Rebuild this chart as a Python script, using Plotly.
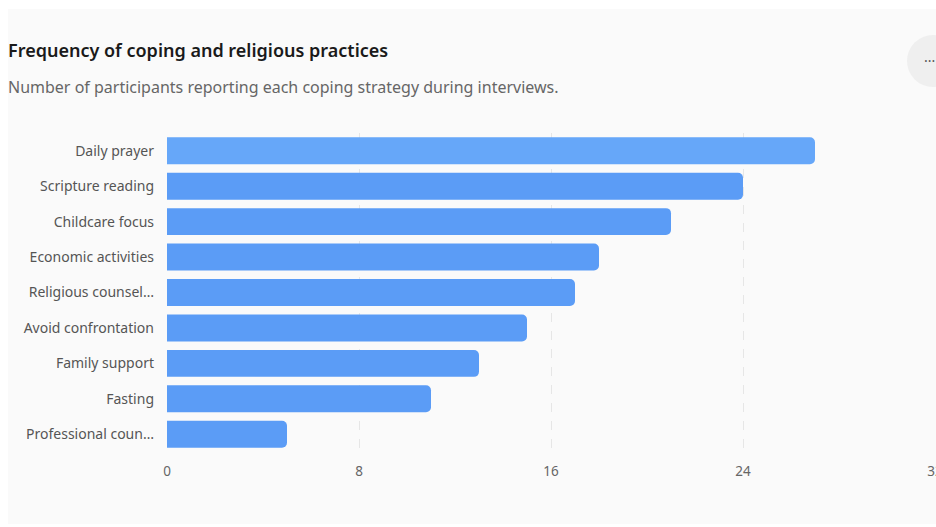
import plotly.graph_objects as go

categories = ["Daily prayer", "Scripture reading", "Childcare focus", "Economic activities",
              "Religious counsel…", "Avoid confrontation", "Family support", "Fasting",
              "Professional coun…"]
values = [27, 24, 21, 18, 17, 15, 13, 11, 5]
x_ticks = [0, 8, 16, 24, 32]
title_text = "Frequency of coping and religious practices"
subtitle_text = "Number of participants reporting each coping strategy during interviews."

W, H = 936, 527
L, R, T, B = 167, 1, 133, 75
PW, PH = W - L - R, H - T - B

def px(x):
    return (x - L) / PW

def py(y):
    return 1 - (y - T) / PH

bar_colors = ["#66a7f9"] + ["#5b9cf6"] * (len(values) - 1)

fig = go.Figure(go.Bar(
    x=values, y=categories, orientation="h",
    marker=dict(color=bar_colors, cornerradius=5, line=dict(width=0)),
    width=0.76, hoverinfo="x+y",
))

FONT = "Noto Sans, Open Sans, sans-serif"

fig.update_layout(
    width=W, height=H,
    margin=dict(l=L, r=R, t=T, b=B, autoexpand=False),
    paper_bgcolor="#ffffff",
    plot_bgcolor="rgba(0,0,0,0)",
    font=dict(family=FONT, color="#555555", size=14),
    showlegend=False,
    bargap=0.24,
    xaxis=dict(range=[0, 32], tickvals=x_ticks, showgrid=True, gridcolor="#e6e6e6",
               griddash="dash", gridwidth=1, zeroline=False, showline=False,
               ticks="", tickfont=dict(size=13.5, color="#666666"), ticklabelstandoff=9,
               ticklabeloverflow="allow", automargin=False, fixedrange=True),
    yaxis=dict(autorange="reversed", showgrid=False, zeroline=False, showline=False,
               ticks="", tickfont=dict(size=14, color="#555555"), ticklabelstandoff=12,
               automargin=False, fixedrange=True),
    shapes=[
        dict(type="rect", xref="paper", yref="paper", x0=px(8), x1=px(940), y0=py(524), y1=py(9),
             fillcolor="#fafafa", line=dict(width=0), layer="below"),
        dict(type="circle", xref="paper", yref="paper", x0=px(907), x1=px(959), y0=py(87), y1=py(35),
             fillcolor="#efefef", line=dict(width=0), layer="below"),
    ],
    annotations=[
        dict(text=title_text, xref="paper", yref="paper", x=px(6), y=py(50), xanchor="left",
             yanchor="middle", showarrow=False,
             font=dict(size=18, color="#1a1a1a", family=FONT, weight=600)),
        dict(text=subtitle_text, xref="paper", yref="paper", x=px(6), y=py(87), xanchor="left",
             yanchor="middle", showarrow=False,
             font=dict(size=16, color="#666666", family=FONT)),
        dict(text="···", xref="paper", yref="paper", x=px(929), y=py(61), xanchor="center",
             yanchor="middle", showarrow=False,
             font=dict(size=14, color="#555555", family=FONT)),
    ],
)

fig.write_html("out.html", config={"displayModeBar": False})
